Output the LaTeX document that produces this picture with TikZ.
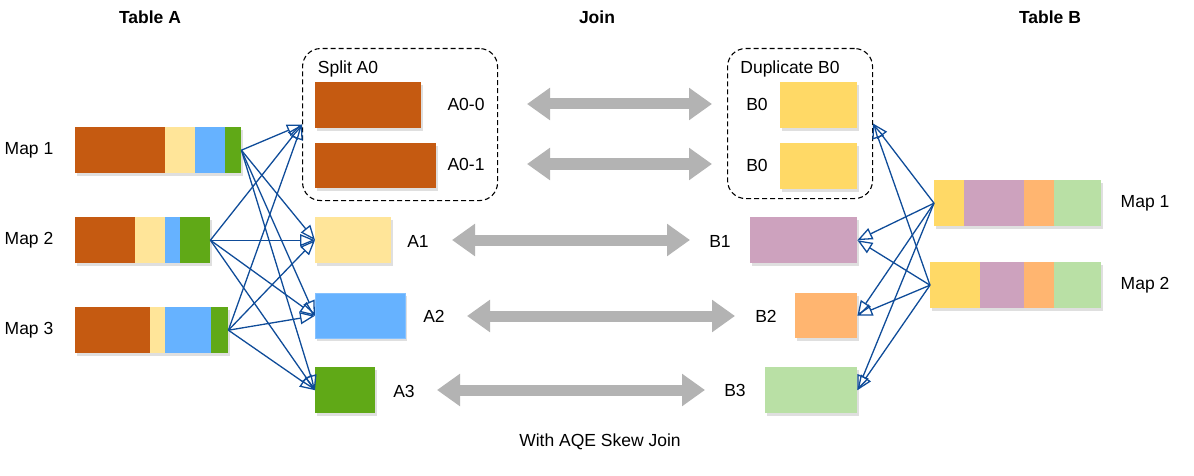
\documentclass[tikz,border=0pt]{standalone}
\usepackage{fontspec}
\setmainfont{Liberation Sans}
\usetikzlibrary{arrows.meta,shadows}
\definecolor{brownc}{HTML}{C55A11}
\definecolor{tanc}{HTML}{FFE599}
\definecolor{bluec}{HTML}{66B2FF}
\definecolor{greenc}{HTML}{60A917}
\definecolor{yellowc}{HTML}{FFD966}
\definecolor{purplec}{HTML}{CDA2BE}
\definecolor{orangec}{HTML}{FFB570}
\definecolor{lgreenc}{HTML}{B9E0A5}
\definecolor{grayc}{HTML}{B3B3B3}
\definecolor{linec}{HTML}{0F4C99}
\tikzset{
  shad/.style={drop shadow={opacity=0.25,shadow xshift=2pt,shadow yshift=-3pt}},
  blk/.style={draw=none, inner sep=0pt, anchor=north west, shad},
  bar/.style={draw=none, inner sep=0pt, anchor=north west, minimum height=46, shad, fill=white},
  grp/.style={draw=black, dashed, dash pattern=on 5pt off 3pt, line width=1.1pt, rounded corners=18pt, inner sep=0pt, anchor=north west},
  lbl/.style={font=\fontsize{17.5}{20}\selectfont, inner sep=0pt},
  ttl/.style={font=\fontsize{17.5}{20}\selectfont\bfseries, inner sep=0pt},
  link/.style={draw=linec, line width=1.3pt, -{Triangle[open, length=15pt 0 0, width=12pt 0 0]}},
  joinarrow/.style={draw=grayc, line width=11pt, {Triangle[length=23pt 0 0, width=31pt 0 0]}-{Triangle[length=23pt 0 0, width=31pt 0 0]}},
}
\begin{document}
\begin{tikzpicture}[x=1pt,y=-1pt]
\useasboundingbox (0,0) rectangle (1194,476);

% titles
\node[ttl] (tA) at (150,17) {Table A};
\node[ttl] (tJ) at (597,17) {Join};
\node[ttl] (tB) at (1050,17) {Table B};
\node[lbl] (cap) at (600,442) {With AQE Skew Join};

% Table A maps
\node[lbl] (lm1) at (29,150) {Map 1};
\node[lbl] (lm2) at (29,240) {Map 2};
\node[lbl] (lm3) at (29,330) {Map 3};

\node[bar, minimum width=166] (m1) at (75,127) {};
\fill[brownc] (75,127) rectangle (165,173);
\fill[tanc] (165,127) rectangle (195,173);
\fill[bluec] (195,127) rectangle (225,173);
\fill[greenc] (225,127) rectangle (241,173);

\node[bar, minimum width=135] (m2) at (75,217) {};
\fill[brownc] (75,217) rectangle (135,263);
\fill[tanc] (135,217) rectangle (165,263);
\fill[bluec] (165,217) rectangle (180,263);
\fill[greenc] (180,217) rectangle (210,263);

\node[bar, minimum width=153] (m3) at (75,307) {};
\fill[brownc] (75,307) rectangle (150,353);
\fill[tanc] (150,307) rectangle (165,353);
\fill[bluec] (165,307) rectangle (211,353);
\fill[greenc] (211,307) rectangle (228,353);

% Split A0 group
\node[grp, minimum width=195, minimum height=152] (split) at (302,48) {};
\node[lbl] (splitl) at (348,69) {Split A0};
\node[blk, fill=brownc, minimum width=106, minimum height=46] (a00) at (315,82) {};
\node[blk, fill=brownc, minimum width=121, minimum height=45] (a01) at (315,143) {};
\node[lbl] (la00) at (466,104) {A0-0};
\node[lbl] (la01) at (466,164) {A0-1};

\node[blk, fill=tanc, minimum width=76, minimum height=46] (a1) at (315,217) {};
\node[blk, fill=bluec, draw=bluec!80!white, minimum width=90, minimum height=45] (a2) at (315,293) {};
\node[blk, fill=greenc, minimum width=60, minimum height=46] (a3) at (315,367) {};
\node[lbl] (la1) at (418,241) {A1};
\node[lbl] (la2) at (434,316) {A2};
\node[lbl] (la3) at (404,391) {A3};

% Duplicate B0 group
\node[grp, minimum width=145, minimum height=150] (dup) at (727,48) {};
\node[lbl] (dupl) at (790,69) {Duplicate B0};
\node[blk, fill=yellowc, minimum width=77, minimum height=46] (b00) at (780,82) {};
\node[blk, fill=yellowc, minimum width=77, minimum height=46] (b01) at (780,143) {};
\node[lbl] (lb00) at (757,104) {B0};
\node[lbl] (lb01) at (757,165) {B0};

\node[blk, fill=purplec, minimum width=107, minimum height=46] (b1) at (750,217) {};
\node[blk, fill=orangec, minimum width=62, minimum height=45] (b2) at (795,293) {};
\node[blk, fill=lgreenc, minimum width=92, minimum height=46] (b3) at (765,367) {};
\node[lbl] (lb1) at (720,241) {B1};
\node[lbl] (lb2) at (766,316) {B2};
\node[lbl] (lb3) at (735,390) {B3};

% Table B maps
\node[bar, minimum width=167] (n1) at (934,180) {};
\fill[yellowc] (934,180) rectangle (964,226);
\fill[purplec] (964,180) rectangle (1024,226);
\fill[orangec] (1024,180) rectangle (1054,226);
\fill[lgreenc] (1054,180) rectangle (1101,226);

\node[bar, minimum width=171] (n2) at (930,262) {};
\fill[yellowc] (930,262) rectangle (980,308);
\fill[purplec] (980,262) rectangle (1024,308);
\fill[orangec] (1024,262) rectangle (1054,308);
\fill[lgreenc] (1054,262) rectangle (1101,308);

\node[lbl] (ln1) at (1145,203) {Map 1};
\node[lbl] (ln2) at (1145,285) {Map 2};

% left links
\foreach \s in {m1,m2,m3}{
  \draw[link] (\s.east) -- (split.west);
  \draw[link] (\s.east) -- (a1.west);
  \draw[link] (\s.east) -- (a2.west);
  \draw[link] (\s.east) -- (a3.west);
}
% right links
\foreach \s in {n1,n2}{
  \draw[link] (\s.west) -- (dup.east);
  \draw[link] (\s.west) -- (b1.east);
  \draw[link] (\s.west) -- (b2.east);
  \draw[link] (\s.west) -- (b3.east);
}

% join arrows
\coordinate (j0s) at (527,104); \coordinate (j0e) at (712,104);
\coordinate (j1s) at (527,164); \coordinate (j1e) at (712,164);
\coordinate (j2s) at (452,240); \coordinate (j2e) at (690,240);
\coordinate (j3s) at (467,316); \coordinate (j3e) at (735,316);
\coordinate (j4s) at (437,390); \coordinate (j4e) at (705,390);
\foreach \k in {0,...,4}{
  \draw[joinarrow] (j\k s) -- (j\k e);
}
\end{tikzpicture}
\end{document}
